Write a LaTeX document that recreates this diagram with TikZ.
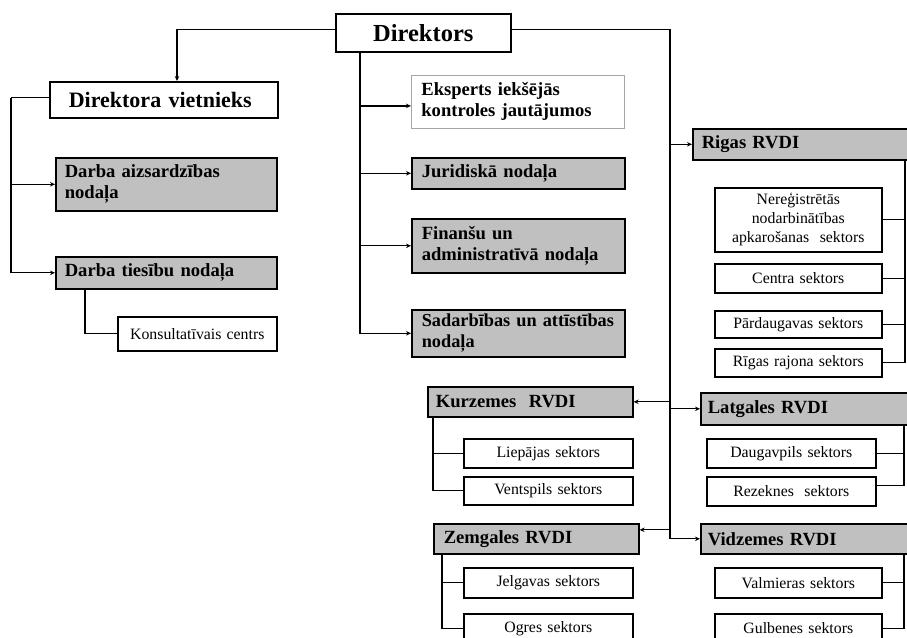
\documentclass[tikz,border=0pt]{standalone}
\usepackage{fontspec}
\setmainfont{Liberation Serif}
\usetikzlibrary{arrows.meta}
\definecolor{boxgray}{RGB}{192,192,192}
\tikzset{
  box/.style={draw=black, line width=1.6pt, inner ysep=0pt, anchor=north west},
  hdr/.style={box, fill=boxgray, align=left, inner xsep=9pt, font=\bfseries\fontsize{18.6}{21}\selectfont},
  wbox/.style={box, fill=white, align=left, font=\bfseries\fontsize{18.6}{21}\selectfont},
  sec/.style={box, fill=white, align=center, inner xsep=2pt, font=\fontsize{15.8}{18}\selectfont},
  conn/.style={draw=black, line width=1.3pt},
  arr/.style={conn, -{Stealth[length=5pt,width=4.5pt]}}
}
\begin{document}
\begin{tikzpicture}[x=1pt,y=-1pt]
\clip (0,0) rectangle (907,637);
\fill[white] (0,0) rectangle (907,637);
% top
\node[wbox, align=center, minimum width=175pt, minimum height=38pt, font=\bfseries\fontsize{24.5}{26}\selectfont] (dir) at (335,13) {Direktors};
\node[wbox, minimum width=227pt, minimum height=36pt, text width=208pt, inner xsep=10pt, font=\bfseries\fontsize{22}{24}\selectfont] (dv) at (49,81) {\hspace{9pt}Direktora vietnieks};
% left
\node[hdr, minimum width=221pt, minimum height=53pt, text width=203pt] (dan) at (55,157) {Darba aizsardzības\\nodaļa};
\node[hdr, minimum width=221pt, minimum height=32pt, text width=203pt] (dtn) at (55,256) {Darba tiesību nodaļa};
\node[sec, minimum width=159pt, minimum height=34pt, text width=155pt] (kc) at (117,316) {Konsultatīvais centrs};
% centre
\node[wbox, draw=gray!70, line width=0.8pt, inner xsep=10pt, minimum width=213pt, minimum height=53pt, text width=193pt] (eks) at (411,75) {Eksperts iekšējās\\kontroles jautājumos};
\node[hdr, inner xsep=10pt, minimum width=213pt, minimum height=31pt, text width=193pt] (jur) at (411,157) {Juridiskā nodaļa};
\node[hdr, inner xsep=10pt, minimum width=213pt, minimum height=54pt, text width=193pt] (fin) at (411,218) {Finanšu un\\administratīvā nodaļa};
\node[hdr, inner xsep=10pt, minimum width=213pt, minimum height=47pt, text width=193pt, font=\bfseries\fontsize{18.3}{21}\selectfont] (sad) at (411,309) {\mbox{Sadarbības un attīstības}\\nodaļa};
% Riga
\node[hdr, minimum width=260pt, minimum height=31pt, text width=242pt] (rig) at (692,128) {Rigas RVDI};
\node[sec, minimum width=167pt, minimum height=64pt, text width=163pt, font=\fontsize{15.8}{19}\selectfont] (ner) at (714,187) {Nereģistrētās\\nodarbinātības\\apkarošanas\ \ sektors};
\node[sec, minimum width=167pt, minimum height=29pt, text width=163pt] (cen) at (714,263) {Centra sektors};
\node[sec, minimum width=167pt, minimum height=27pt, text width=163pt] (par) at (714,310) {Pārdaugavas sektors};
\node[sec, minimum width=167pt, minimum height=28pt, text width=163pt] (rra) at (714,348) {Rīgas rajona sektors};
% Kurzeme
\node[hdr, inner xsep=8pt, minimum width=205pt, minimum height=30pt, text width=189pt] (kur) at (427,386) {Kurzemes\ \ RVDI};
\node[sec, minimum width=169pt, minimum height=29pt, text width=165pt] (lie) at (463,438) {Liepājas sektors};
\node[sec, minimum width=169pt, minimum height=28pt, text width=165pt] (ven) at (463,476) {Ventspils sektors};
% Latgale
\node[hdr, inner xsep=7pt, minimum width=260pt, minimum height=32pt, text width=246pt] (lat) at (700,392) {Latgales RVDI};
\node[sec, minimum width=169pt, minimum height=29pt, text width=165pt] (dau) at (706,438) {Daugavpils sektors};
\node[sec, minimum width=169pt, minimum height=29pt, text width=165pt] (rez) at (706,476) {Rezeknes\ \ sektors};
% Zemgale
\node[hdr, inner xsep=10pt, minimum width=205pt, minimum height=30pt, text width=185pt] (zem) at (433,523) {Zemgales RVDI};
\node[sec, minimum width=169pt, minimum height=30pt, text width=165pt] (jel) at (463,567) {Jelgavas sektors};
\node[sec, minimum width=169pt, minimum height=29pt, text width=165pt] (ogr) at (463,613) {Ogres sektors};
% Vidzeme
\node[hdr, inner xsep=7pt, minimum width=260pt, minimum height=30pt, text width=246pt] (vid) at (700,523) {Vidzemes RVDI};
\node[sec, minimum width=167pt, minimum height=30pt, text width=163pt] (val) at (714,567) {Valmieras sektors};
\node[sec, minimum width=167pt, minimum height=29pt, text width=163pt] (gul) at (714,613) {Gulbenes sektors};
% coordinates
\coordinate (dvtop) at (177,81);
\coordinate (ctop) at (360,51);
\coordinate (rv) at (670,0);
\coordinate (rrv) at (905,159);
\coordinate (lrv) at (904,424);
\coordinate (vrv) at (904,553);
% connectors: director
\draw[arr] ([yshift=3pt]dir.west) -| (dvtop);
\draw[conn] ([yshift=2pt]dv.west) -- ++(-38,0) coordinate (lt);
\draw[arr] (lt) |- (dtn.west);
\draw[arr] (lt |- dan.west) -- (dan.west);
\draw[conn] (dtn.south west) ++(30,0) |- (kc.west);
% centre
\coordinate (eksc) at ([yshift=-4pt]eks.west);
\draw[arr] (ctop) |- (sad.west);
\draw[arr] (ctop |- eksc) -- (eksc);
\draw[arr] (ctop |- jur.west) -- (jur.west);
\draw[arr] (ctop |- fin.west) -- (fin.west);
% right spine
\draw[arr] ([yshift=3pt]dir.east) -| (rv |- vid.west) -- (vid.west);
\draw[arr] (rv |- rig.west) -- (rig.west);
\draw[arr] (rv |- lat.west) -- (lat.west);
\draw[arr] (rv |- kur.east) -- (kur.east);
\coordinate (zemc) at ([yshift=9pt]zem.east);
\draw[arr] (rv |- zemc) -- (zemc);
% Riga sectors
\draw[conn] (rrv) |- (rra.east);
\draw[conn] (rrv |- ner.east) -- (ner.east);
\draw[conn] (rrv |- cen.east) -- (cen.east);
\draw[conn] (rrv |- par.east) -- (par.east);
% Latgale
\coordinate (rezc) at ([yshift=6pt]rez.east);
\draw[conn] (lrv) |- (rezc);
\draw[conn] (lrv |- dau.east) -- (dau.east);
% Vidzeme
\draw[conn] (vrv) |- (gul.east);
\draw[conn] (vrv |- val.east) -- (val.east);
% Kurzeme
\draw[conn] (kur.south west) ++(6,0) coordinate (kv) |- (ven.west);
\draw[conn] (kv |- lie.west) -- (lie.west);
% Zemgale
\draw[conn] (zem.south west) ++(9,0) coordinate (zv) |- (ogr.west);
\draw[conn] (zv |- jel.west) -- (jel.west);
\end{tikzpicture}
\end{document}
